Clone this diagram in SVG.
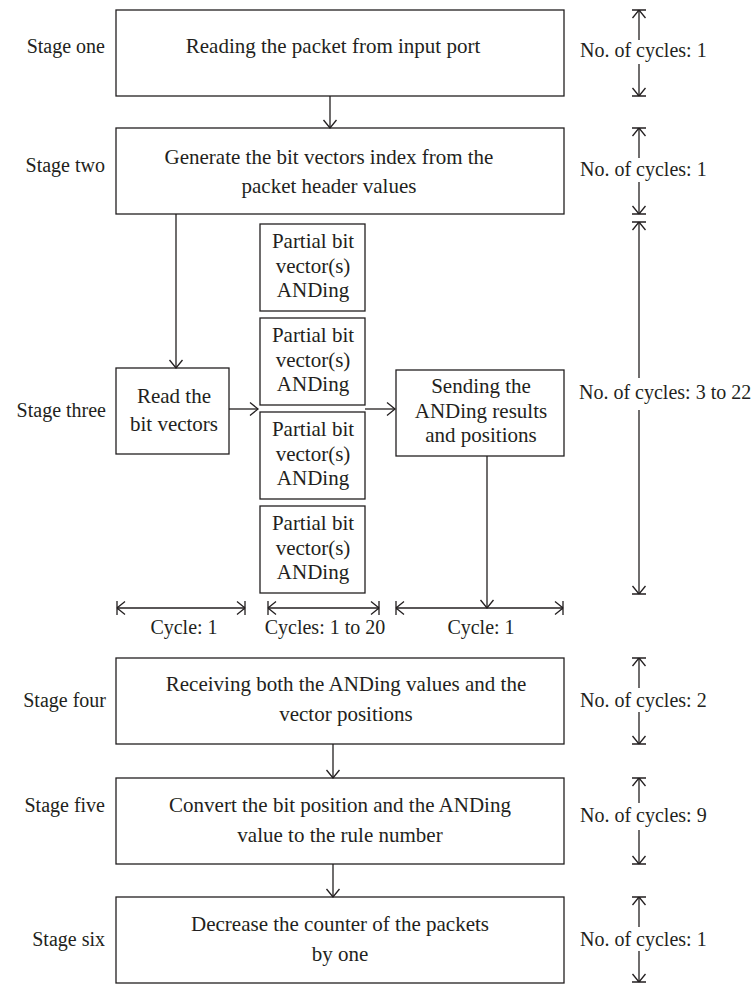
<svg xmlns="http://www.w3.org/2000/svg" width="755" height="985" viewBox="0 0 755 985">
  <style>
    text { font-family: "Liberation Serif", "Times New Roman", serif; font-size: 20px; fill: #231f20; }
    .c { text-anchor: middle; }
    .e { text-anchor: end; }
    .t { font-size: 21px; }
    .box { fill: #ffffff; stroke: #231f20; stroke-width: 1.3; }
    .ln { fill: none; stroke: #231f20; stroke-width: 1.3; }
    .arr { marker-end: url(#head); }
    .dim { marker-start: url(#dimEnd); marker-end: url(#dimEnd); }
  </style>
  <defs>
    <!-- open V arrowhead -->
    <marker id="head" viewBox="-10 -8 12 16" refX="0" refY="0" markerWidth="12" markerHeight="16" markerUnits="userSpaceOnUse" orient="auto" overflow="visible">
      <path d="M-8,-6.5 L0,0 L-8,6.5" fill="none" stroke="#231f20" stroke-width="1.3"/>
    </marker>
    <!-- dimension end: open V with stop bar -->
    <marker id="dimEnd" viewBox="-10 -8 12 16" refX="0" refY="0" markerWidth="12" markerHeight="16" markerUnits="userSpaceOnUse" orient="auto-start-reverse" overflow="visible">
      <path d="M-8,-6.5 L0,0 L-8,6.5 M0,-7 L0,7" fill="none" stroke="#231f20" stroke-width="1.3"/>
    </marker>
  </defs>

  <!-- stage labels -->
  <g id="stage-labels">
    <text class="e" x="105" y="53">Stage one</text>
    <text class="e" x="105" y="172">Stage two</text>
    <text class="e" x="106" y="417">Stage three</text>
    <text class="e" x="106" y="707">Stage four</text>
    <text class="e" x="105" y="812">Stage five</text>
    <text class="e" x="105" y="946">Stage six</text>
  </g>

  <!-- main stage boxes -->
  <g id="s1">
    <rect class="box" x="116" y="10" width="448" height="86"/>
    <text class="c t" x="333" y="53">Reading the packet from input port</text>
  </g>
  <g id="s2">
    <rect class="box" x="116" y="128" width="448" height="86"/>
    <text class="c t" x="329" y="164">Generate the bit vectors index from the</text>
    <text class="c t" x="329" y="193">packet header values</text>
  </g>
  <g id="read">
    <rect class="box" x="116" y="368" width="113" height="86"/>
    <text class="c t" x="174" y="403">Read the</text>
    <text class="c t" x="174" y="431">bit vectors</text>
  </g>
  <g id="and1">
    <rect class="box" x="260" y="224" width="105" height="87"/>
    <text class="c t" x="313" y="248">Partial bit</text>
    <text class="c t" x="313" y="272.5">vector(s)</text>
    <text class="c t" x="313" y="297">ANDing</text>
  </g>
  <g id="and2">
    <rect class="box" x="260" y="318" width="105" height="87"/>
    <text class="c t" x="313" y="342">Partial bit</text>
    <text class="c t" x="313" y="366.5">vector(s)</text>
    <text class="c t" x="313" y="391">ANDing</text>
  </g>
  <g id="and3">
    <rect class="box" x="260" y="412" width="105" height="87"/>
    <text class="c t" x="313" y="436">Partial bit</text>
    <text class="c t" x="313" y="460.5">vector(s)</text>
    <text class="c t" x="313" y="485">ANDing</text>
  </g>
  <g id="and4">
    <rect class="box" x="260" y="506" width="105" height="87"/>
    <text class="c t" x="313" y="530">Partial bit</text>
    <text class="c t" x="313" y="554.5">vector(s)</text>
    <text class="c t" x="313" y="579">ANDing</text>
  </g>
  <g id="send">
    <rect class="box" x="396" y="370" width="168" height="86"/>
    <text class="c t" x="481" y="393">Sending the</text>
    <text class="c t" x="481" y="418">ANDing results</text>
    <text class="c t" x="481" y="442">and positions</text>
  </g>
  <g id="s4">
    <rect class="box" x="116" y="658" width="448" height="86"/>
    <text class="c t" x="346" y="691">Receiving both the ANDing values and the</text>
    <text class="c t" x="346" y="721">vector positions</text>
  </g>
  <g id="s5">
    <rect class="box" x="116" y="778" width="448" height="86"/>
    <text class="c t" x="340" y="812">Convert the bit position and the ANDing</text>
    <text class="c t" x="340" y="842">value to the rule number</text>
  </g>
  <g id="s6">
    <rect class="box" x="116" y="897" width="448" height="86"/>
    <text class="c t" x="340" y="931">Decrease the counter of the packets</text>
    <text class="c t" x="340" y="961">by one</text>
  </g>

  <!-- flow connectors -->
  <g id="connectors">
    <line class="ln arr" x1="330" y1="96" x2="330" y2="128"/>
    <line class="ln arr" x1="176" y1="214" x2="176" y2="368"/>
    <line class="ln arr" x1="229" y1="409" x2="258" y2="409"/>
    <line class="ln arr" x1="365" y1="409" x2="395" y2="409"/>
    <line class="ln arr" x1="487" y1="456" x2="487" y2="608"/>
    <line class="ln arr" x1="333" y1="744" x2="333" y2="778"/>
    <line class="ln arr" x1="333" y1="864" x2="333" y2="897"/>
  </g>

  <!-- cycle spans under stage three -->
  <g id="cycle-spans">
    <line class="ln dim" x1="117" y1="608" x2="245" y2="608"/>
    <line class="ln dim" x1="268" y1="608" x2="379" y2="608"/>
    <line class="ln dim" x1="396" y1="608" x2="563" y2="608"/>
    <text class="c" x="184" y="634">Cycle: 1</text>
    <text class="c" x="325" y="634">Cycles: 1 to 20</text>
    <text class="c" x="481" y="634">Cycle: 1</text>
  </g>

  <!-- cycle counts per stage -->
  <g id="cycle-counts">
    <line class="ln" x1="639" y1="40" x2="639" y2="10" marker-end="url(#dimEnd)"/>
    <line class="ln" x1="639" y1="64" x2="639" y2="96" marker-end="url(#dimEnd)"/>
    <text x="580" y="57">No. of cycles: 1</text>

    <line class="ln" x1="639" y1="158" x2="639" y2="128" marker-end="url(#dimEnd)"/>
    <line class="ln" x1="639" y1="182" x2="639" y2="214" marker-end="url(#dimEnd)"/>
    <text x="580" y="176">No. of cycles: 1</text>

    <line class="ln" x1="639" y1="378" x2="639" y2="222" marker-end="url(#dimEnd)"/>
    <line class="ln" x1="639" y1="410" x2="639" y2="594" marker-end="url(#dimEnd)"/>
    <text x="579" y="399">No. of cycles: 3 to 22</text>

    <line class="ln" x1="639" y1="688" x2="639" y2="658" marker-end="url(#dimEnd)"/>
    <line class="ln" x1="639" y1="712" x2="639" y2="744" marker-end="url(#dimEnd)"/>
    <text x="580" y="707">No. of cycles: 2</text>

    <line class="ln" x1="639" y1="803" x2="639" y2="778" marker-end="url(#dimEnd)"/>
    <line class="ln" x1="639" y1="830" x2="639" y2="864" marker-end="url(#dimEnd)"/>
    <text x="580" y="822">No. of cycles: 9</text>

    <line class="ln" x1="639" y1="927" x2="639" y2="897" marker-end="url(#dimEnd)"/>
    <line class="ln" x1="639" y1="951" x2="639" y2="982" marker-end="url(#dimEnd)"/>
    <text x="580" y="946">No. of cycles: 1</text>
  </g>
</svg>
